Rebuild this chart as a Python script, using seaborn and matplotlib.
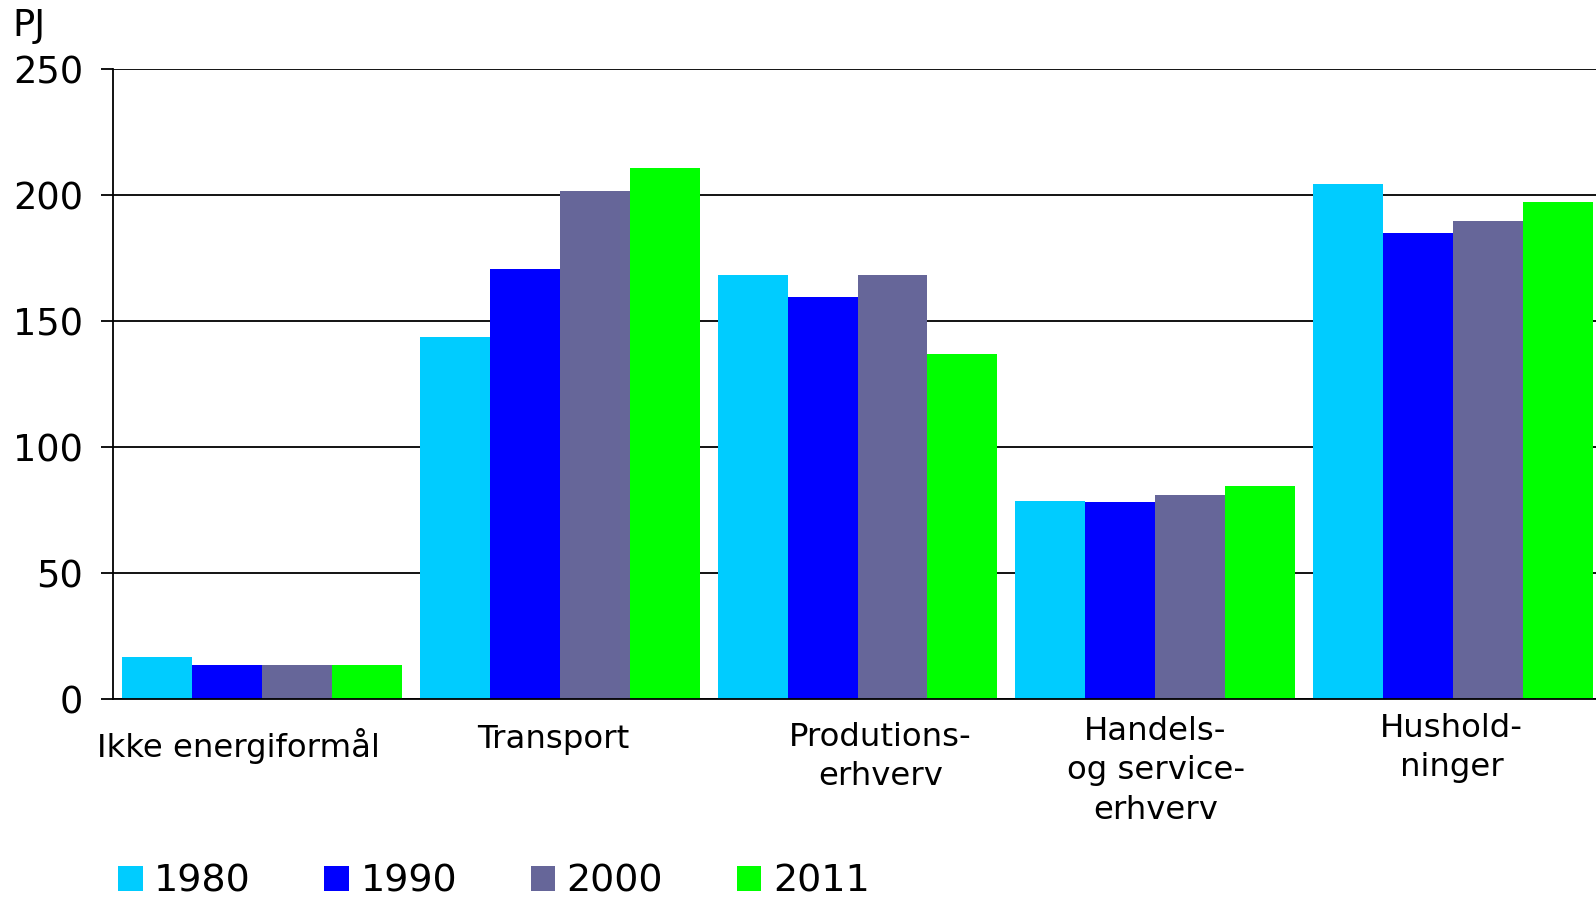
import pandas as pd
import numpy as np
import matplotlib
matplotlib.use("Agg")
import matplotlib.pyplot as plt
import seaborn as sns

categories = ["Ikke energiformål", "Transport", "Produtions-\nerhverv",
              "Handels-\nog service-\nerhverv", "Hushold-\nninger"]
years = ["1980", "1990", "2000", "2011"]
v1980 = [16.5, 143.8, 168.4, 78.4, 204.4]
v1990 = [13.3, 170.8, 159.5, 78.0, 185.0]
v2000 = [13.3, 201.5, 168.4, 80.8, 189.8]
v2011 = [13.3, 210.8, 136.9, 84.4, 197.1]
colors = ["#00ccff", "#0000ff", "#666699", "#00ff00"]

df = pd.DataFrame({
    "cat": categories * 4,
    "year": np.repeat(years, len(categories)),
    "pj": v1980 + v1990 + v2000 + v2011,
})

sns.set_style("white")
plt.rcParams["font.family"] = ["DejaVu Sans"]
plt.rcParams["text.color"] = "black"
plt.rcParams["ytick.color"] = "black"

fig = plt.figure(figsize=(15.96, 8.98), dpi=100)
# axes runs slightly past the right edge, like the original
ax = fig.add_axes([113 / 1596, 1 - 699 / 898, 1489 / 1596, 630 / 898])

sns.barplot(data=df, x="cat", y="pj", hue="year", palette=colors,
            width=0.94, gap=0, saturation=1, linewidth=0, ax=ax, legend=True)

ax.set_ylim(0, 250)
ax.set_xlim(-0.5, 4.5)
ax.set_yticks([0, 50, 100, 150, 200, 250])
ax.yaxis.grid(True, color="black", linewidth=1.3)
ax.set_axisbelow(True)
ax.tick_params(axis="y", labelsize=26.5, length=8.6, width=1.3, pad=13, left=True,
               color="black", labelcolor="black")
ax.tick_params(axis="x", bottom=False, labelbottom=False)
for s in ["top", "right"]:
    ax.spines[s].set_visible(False)
for s in ["left", "bottom"]:
    ax.spines[s].set_color("black")
    ax.spines[s].set_linewidth(1.3)
ax.set_xlabel("")
ax.set_ylabel("")

# category labels sit at slightly uneven heights in the original
dx = [-0.08, -0.023, 0.078, 0.001, -0.005]
dy = [-0.0746, -0.064, -0.092, -0.114, -0.078]
for i, lab in enumerate(categories):
    ax.text(i + dx[i], dy[i], lab, transform=ax.get_xaxis_transform(),
            ha="center", va="center", fontsize=23.3, linespacing=1.36,
            multialignment="center", color="black")

fig.text(12 / 1596, 1 - 25 / 898, "PJ", fontsize=26.5, va="center", ha="left")

handles, labels = ax.get_legend_handles_labels()
ax.get_legend().remove()
fig.legend(handles, labels, loc="center left", bbox_to_anchor=(118 / 1596, 0.018),
           ncol=4, frameon=False, fontsize=27.4, handlelength=0.65, handleheight=0.65,
           handletextpad=0.3, columnspacing=1.93, borderpad=0, borderaxespad=0)

fig.savefig("out.png", dpi=100)
